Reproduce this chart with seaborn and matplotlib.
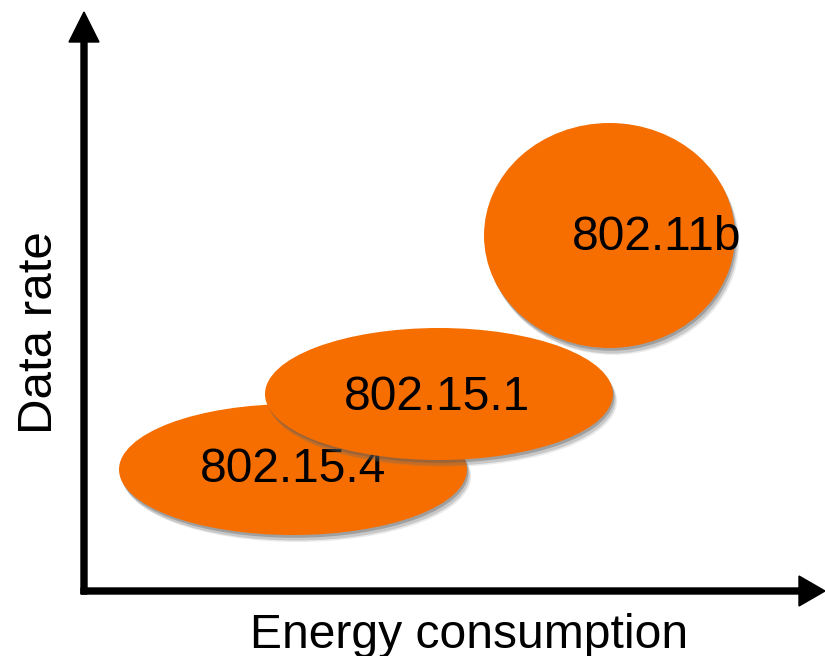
# import libraries
import matplotlib
matplotlib.use("Agg")
import matplotlib.pyplot as plt
import matplotlib.patheffects as pe
from matplotlib.patches import Ellipse
import seaborn as sns

# data: the three radio standards (qualitative position on energy / rate plane)
standards = ["802.15.4", "802.15.1", "802.11b"]
energy = [293, 439, 609.5]      # ellipse centre, x
rate = [186.5, 262, 420.5]      # ellipse centre, y
spread_energy = [348, 348, 251]  # ellipse width
spread_rate = [131, 132, 225]    # ellipse height
label_energy = [293, 437, 657]   # where the name sits
label_rate = [186, 259, 419]

x_label = "Energy consumption"
y_label = "Data rate"

# style
sns.set_theme(style="white")
plt.rcParams["font.family"] = ["Liberation Sans", "DejaVu Sans"]
plt.rcParams["text.color"] = "black"

orange = "#F66E00"

fig = plt.figure(figsize=(8.25, 6.56), dpi=100)
ax = fig.add_axes([0, 0, 1, 1])
ax.set_xlim(0, 825)
ax.set_ylim(0, 656)
ax.axis("off")

# ellipses with a soft drop shadow (a few faint layers)
shadow = [pe.SimplePatchShadow(offset=(3, -5), shadow_rgbFace="#777777", alpha=0.15),
          pe.SimplePatchShadow(offset=(2, -4), shadow_rgbFace="#666666", alpha=0.25),
          pe.SimplePatchShadow(offset=(1, -2), shadow_rgbFace="#555555", alpha=0.35),
          pe.Normal()]
for i in range(len(standards)):
    e = Ellipse((energy[i], rate[i]), spread_energy[i], spread_rate[i],
                facecolor=orange, edgecolor="none", zorder=2 + i)
    e.set_path_effects(shadow)
    ax.add_patch(e)
    ax.text(label_energy[i], label_rate[i], standards[i], fontsize=34.5,
            ha="center", va="center", color="black", zorder=2 + i)

# axes drawn as arrows
ax.arrow(84, 62, 0, 582, width=6, head_width=30, head_length=30,
         length_includes_head=True, color="black", zorder=5)
ax.arrow(81, 65, 744, 0, width=6, head_width=30, head_length=26,
         length_includes_head=True, color="black", zorder=5)

ax.text(469, 21, x_label, fontsize=34.6, ha="center", va="center", color="black")
ax.text(40, 323, y_label, fontsize=35.5, ha="center", va="center", rotation=90, color="black")

fig.savefig("out.png", dpi=100)
